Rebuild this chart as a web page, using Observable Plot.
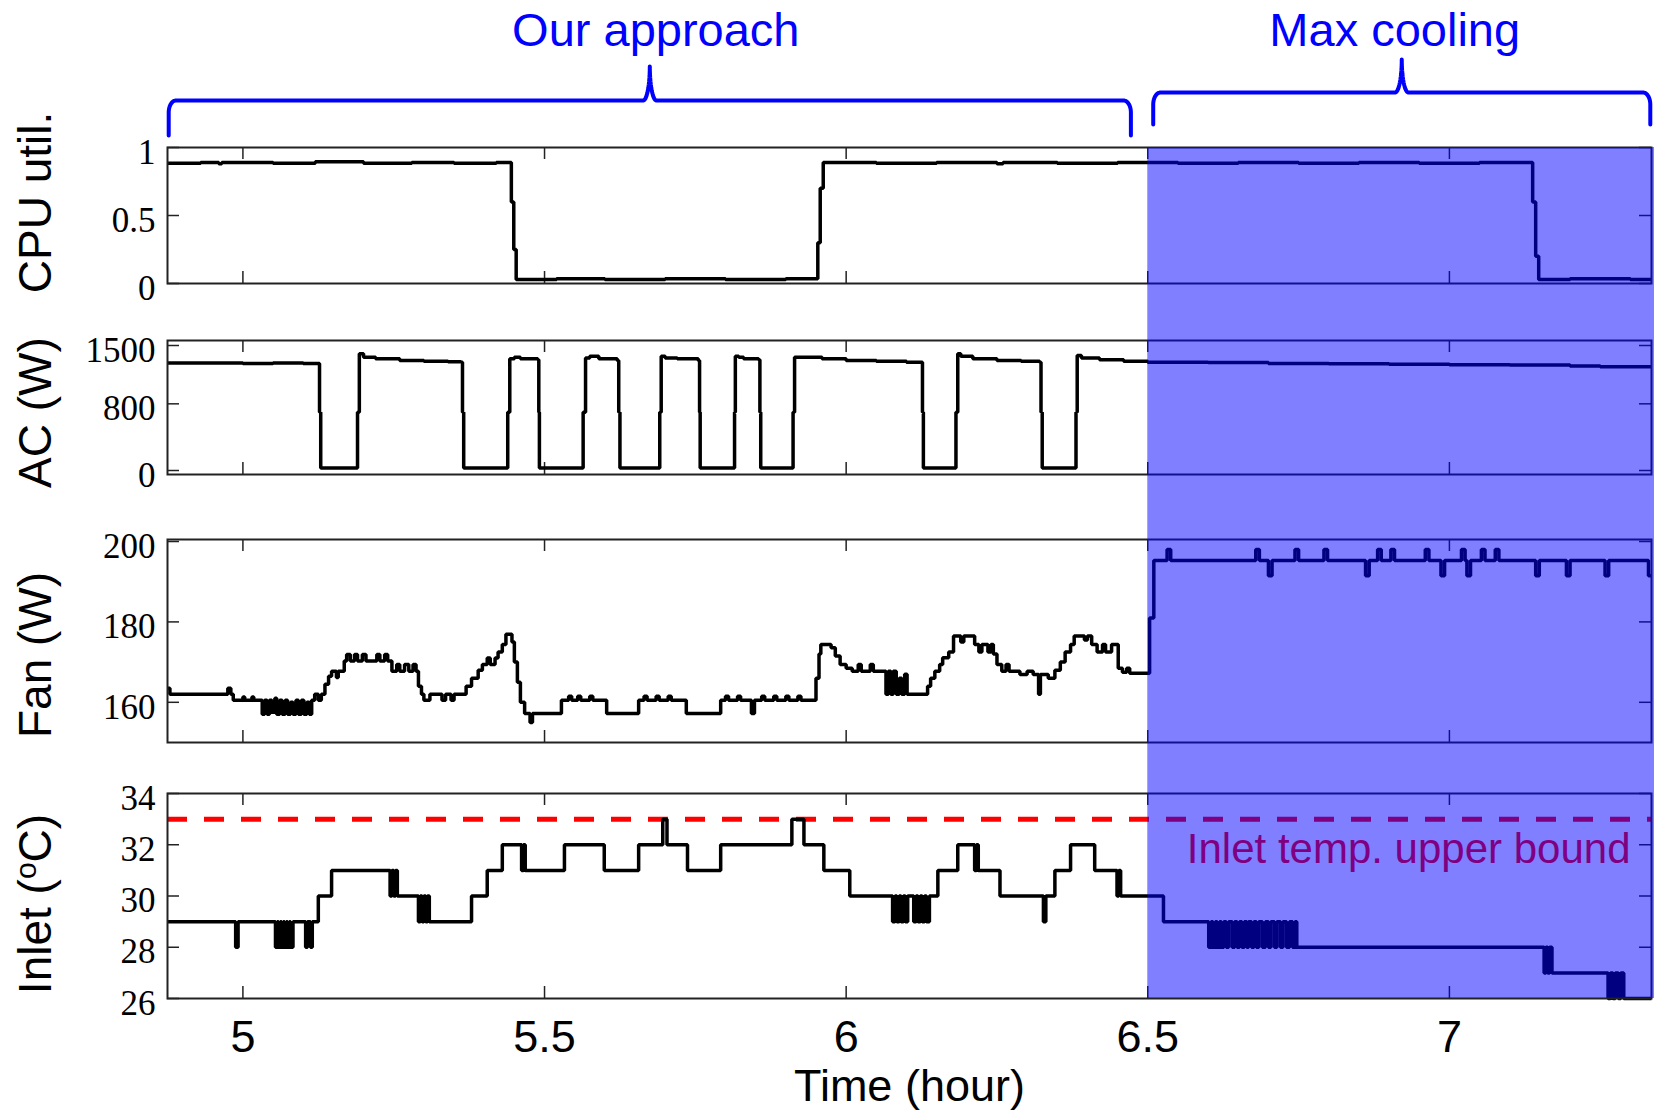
<!DOCTYPE html>
<html>
<head>
<meta charset="utf-8">
<script src="https://cdn.jsdelivr.net/npm/d3@7"></script>
<script src="https://cdn.jsdelivr.net/npm/@observablehq/plot@0.6"></script>
<style>
html, body { margin: 0; padding: 0; background: #fff; }
#chart { position: relative; width: 1654px; height: 1112px; overflow: hidden; background: #fff; }
</style>
</head>
<body>
<div id="chart"></div>
<script>
// ---------------- DATA ----------------
const xTicks = [5, 5.5, 6, 6.5, 7];
const xTickLabels = ["5", "5.5", "6", "6.5", "7"];

const phaseLabels = ["Our approach", "Max cooling"];
const phaseStart = [4.877, 6.509];
const phaseEnd = [6.472, 7.333];
const shadeStart = 6.5;
const shadeEnd = 7.34;

const cpuTicks = [0, 0.5, 1];
const cpuTickLabels = ["0", "0.5", "1"];
const acTicks = [0, 800, 1500];
const acTickLabels = ["0", "800", "1500"];
const fanTicks = [160, 180, 200];
const fanTickLabels = ["160", "180", "200"];
const inletTicks = [26, 28, 30, 32, 34];
const inletTickLabels = ["26", "28", "30", "32", "34"];
const inletBound = 33;
const inletBoundLabel = "Inlet temp. upper bound";

// [hour, CPU utilisation]
const cpuUtil = [
  [4.875,0.885],[4.93,0.89],[4.96,0.88],[4.965,0.89],[5.05,0.885],[5.12,0.895],[5.2,0.885],[5.28,0.89],
  [5.35,0.885],[5.42,0.89],[5.445,0.6],[5.449,0.25],[5.453,0.03],[5.52,0.035],[5.6,0.03],[5.7,0.035],
  [5.8,0.03],[5.9,0.035],[5.953,0.3],[5.957,0.7],[5.962,0.89],[6.05,0.885],[6.15,0.89],[6.25,0.88],
  [6.26,0.89],[6.35,0.885],[6.45,0.89],[6.55,0.885],[6.65,0.89],[6.75,0.885],[6.85,0.89],[6.95,0.885],
  [7.05,0.89],[7.138,0.6],[7.143,0.2],[7.148,0.03],[7.2,0.035],[7.3,0.03],[7.335,0.03]
];

// [hour, AC power W]
const acPower = [
  [4.875,1290],[4.95,1290],[5.0,1285],[5.05,1290],[5.1,1285],[5.1245,1285],[5.127,700],[5.129,30],
  [5.1877,30],[5.190,700],[5.193,1400],[5.2,1360],[5.22,1340],[5.26,1320],[5.3,1310],[5.34,1305],
  [5.3616,1300],[5.364,700],[5.366,30],[5.436,30],[5.439,700],[5.4424,1340],[5.45,1360],[5.46,1340],
  [5.4888,1330],[5.4905,700],[5.4915,30],[5.5608,30],[5.564,700],[5.568,1350],[5.575,1370],[5.59,1340],
  [5.6205,1320],[5.623,700],[5.625,30],[5.689,30],[5.691,700],[5.6934,1370],[5.70,1350],[5.72,1340],
  [5.7548,1320],[5.757,700],[5.758,30],[5.8128,30],[5.815,700],[5.8163,1370],[5.822,1360],[5.83,1340],
  [5.8548,1330],[5.857,700],[5.8584,30],[5.9093,30],[5.912,700],[5.9145,1360],[5.93,1360],[5.96,1340],
  [6.0,1320],[6.05,1310],[6.1,1300],[6.125,1300],[6.1265,700],[6.128,30],[6.18,30],[6.182,700],
  [6.185,1400],[6.19,1370],[6.21,1340],[6.25,1320],[6.29,1310],[6.3207,1300],[6.323,700],[6.325,30],
  [6.379,30],[6.381,700],[6.383,1380],[6.39,1350],[6.42,1330],[6.46,1310],[6.5,1300],[6.6,1295],
  [6.7,1285],[6.8,1280],[6.9,1275],[7.0,1270],[7.1,1265],[7.2,1255],[7.25,1245],[7.335,1245]
];

// [hour, fan power W]
const fanPower = [
  [4.875,163.5],[4.879,162],[4.975,163.5],[4.98,162],[4.984,160.5],[5.0,161.3],[5.003,160.5],[5.015,161.3],
  [5.018,160.5],[5.032,157],[5.036,160.5],[5.04,157],[5.044,160.5],[5.048,157.5],[5.053,161],[5.056,157],
  [5.061,160.5],[5.065,157],[5.07,160.5],[5.074,157],[5.079,160],[5.083,157],[5.088,160.5],[5.092,157],
  [5.097,160.5],[5.101,157],[5.106,160],[5.110,157],[5.114,160.5],[5.119,162],[5.125,160.5],[5.13,162],
  [5.136,164.5],[5.142,166.5],[5.147,167.7],[5.155,166.2],[5.158,167.7],[5.168,170.3],[5.172,171.9],[5.178,170.3],
  [5.185,171.9],[5.19,170.3],[5.198,171.9],[5.204,170.3],[5.222,171.9],[5.227,170.3],[5.235,171.9],[5.24,170.3],
  [5.247,167.7],[5.255,169.4],[5.26,167.7],[5.268,169.4],[5.275,167.7],[5.282,169.4],[5.287,167.7],[5.291,164],
  [5.296,162],[5.30,160.5],[5.31,162],[5.33,160.5],[5.336,162],[5.345,160.5],[5.35,162],[5.37,164],
  [5.379,166],[5.39,168],[5.397,169.4],[5.405,171],[5.41,169.4],[5.418,171],[5.423,172.5],[5.43,174.4],
  [5.436,176.9],[5.446,175],[5.45,170],[5.455,165],[5.46,160],[5.467,157.2],[5.476,155],[5.48,157.2],
  [5.528,160.5],[5.54,161.5],[5.545,160.5],[5.555,161.5],[5.56,160.5],[5.575,161.5],[5.58,160.5],[5.603,157.2],
  [5.656,160.5],[5.665,161.5],[5.67,160.5],[5.685,161.5],[5.69,160.5],[5.705,161.5],[5.71,160.5],[5.735,157.2],
  [5.792,160.5],[5.80,161.5],[5.805,160.5],[5.82,161.5],[5.825,160.5],[5.843,157.2],[5.848,160.5],[5.86,161.5],
  [5.865,160.5],[5.88,161.5],[5.885,160.5],[5.90,161.5],[5.905,160.5],[5.92,161.5],[5.925,160.5],[5.95,166],
  [5.955,172],[5.958,174.4],[5.975,173.6],[5.982,171.5],[5.99,169.4],[6.0,168.5],[6.01,167.7],[6.02,169.4],
  [6.025,167.7],[6.04,169.4],[6.045,167.7],[6.066,162],[6.07,167.7],[6.074,162],[6.078,167.7],[6.083,162],
  [6.088,166],[6.092,162],[6.097,167],[6.101,162],[6.129,162],[6.135,164],[6.14,166],[6.147,167.7],
  [6.155,169.4],[6.16,171.1],[6.17,172.5],[6.178,176.5],[6.19,175],[6.195,176.5],[6.213,174.4],[6.22,172.5],
  [6.225,174.4],[6.235,172.5],[6.24,174.4],[6.244,172],[6.25,169.4],[6.258,167.7],[6.265,169.4],[6.27,167.7],
  [6.288,166.9],[6.30,167.7],[6.31,166.9],[6.319,162],[6.322,166.9],[6.335,166],[6.346,168],[6.355,170],
  [6.363,172.5],[6.372,174.4],[6.378,176.5],[6.395,175.5],[6.40,176.5],[6.407,174.4],[6.416,172.5],[6.425,174.4],
  [6.43,172.5],[6.44,174.4],[6.451,168.5],[6.458,167.5],[6.465,168.5],[6.47,167.2],[6.497,167.2],[6.503,181],
  [6.51,195.25],[6.532,198],[6.538,195.25],[6.679,198],[6.685,195.25],[6.700,191.5],[6.706,195.25],[6.744,198],
  [6.75,195.25],[6.792,198],[6.798,195.25],[6.861,191.5],[6.867,195.25],[6.881,198],[6.887,195.25],[6.903,198],
  [6.909,195.25],[6.960,198],[6.966,195.25],[6.986,191.5],[6.992,195.25],[7.020,198],[7.026,195.25],[7.029,191.5],
  [7.035,195.25],[7.053,198],[7.059,195.25],[7.076,198],[7.082,195.25],[7.143,191.5],[7.149,195.25],[7.194,191.5],
  [7.2,195.25],[7.258,191.5],[7.264,195.25],[7.33,191.5],[7.335,191.5]
];

// [hour, inlet temperature °C]
const inletTemp = [
  [4.875,29],[4.988,28],[4.992,29],[5.054,28],[5.057,29],[5.059,28],[5.062,29],[5.064,28],[5.067,29],
  [5.069,28],[5.072,29],[5.074,28],[5.077,29],[5.079,28],[5.083,29],[5.104,28],[5.107,29],[5.112,28],
  [5.115,29],[5.125,30],[5.147,31],[5.244,30],[5.247,31],[5.25,30],[5.253,31],[5.256,30],[5.291,29],
  [5.294,30],[5.297,29],[5.30,30],[5.303,29],[5.306,30],[5.309,29],[5.379,30],[5.405,31],[5.43,32],
  [5.462,31],[5.465,32],[5.468,31],[5.533,32],[5.599,31],[5.656,32],[5.696,33],[5.703,32],[5.737,31],
  [5.792,32],[5.91,33],[5.93,32],[5.963,31],[6.006,30],[6.077,29],[6.081,30],[6.084,29],[6.088,30],
  [6.091,29],[6.095,30],[6.098,29],[6.102,30],[6.112,29],[6.116,30],[6.119,29],[6.123,30],[6.126,29],
  [6.13,30],[6.133,29],[6.138,30],[6.152,31],[6.185,32],[6.213,31],[6.216,32],[6.219,31],[6.255,30],
  [6.327,29],[6.331,30],[6.346,31],[6.372,32],[6.412,31],[6.449,30],[6.452,31],[6.455,30],[6.526,29],
  [6.601,28],[6.605,29],[6.608,28],[6.612,29],[6.615,28],[6.619,29],[6.622,28],[6.626,29],[6.63,28],
  [6.634,29],[6.64,28],[6.644,29],[6.648,28],[6.652,29],[6.656,28],[6.66,29],[6.664,28],[6.667,29],
  [6.672,28],[6.676,29],[6.68,28],[6.684,29],[6.69,28],[6.695,29],[6.70,28],[6.704,29],[6.71,28],
  [6.714,29],[6.72,28],[6.724,29],[6.73,28],[6.735,29],[6.74,28],[6.744,29],[6.747,28],[7.157,27],
  [7.16,28],[7.163,27],[7.166,28],[7.170,27],[7.263,26],[7.267,27],[7.271,26],[7.275,27],[7.28,26],
  [7.284,27],[7.289,26],[7.335,26]
];

// ---------------- LAYOUT / STYLE ----------------
const SANS = "'Liberation Sans', Arial, Helvetica, sans-serif";
const SERIF = "'Liberation Serif', 'Times New Roman', serif";
const W = 1654, ML = 167, MR = 3, TICK = 12;
const FW = W - ML - MR;
const xDomain = [4.875, 7.335];
const chart = document.getElementById("chart");

function place(svg, top) {
  svg.style.position = "absolute";
  svg.style.left = "0px";
  svg.style.top = top + "px";
  chart.appendChild(svg);
  return svg;
}

function panel({frameTop, frameH, yDomain, series, ticks, labels, title, titleDy, mb = 20, before = [], after = []}) {
  const mt = 20;
  const svg = Plot.plot({
    width: W, height: mt + frameH + mb,
    marginLeft: ML, marginRight: MR, marginTop: mt, marginBottom: mb,
    style: {background: "transparent", overflow: "visible", fontFamily: SANS, color: "black"},
    x: {domain: xDomain, axis: null},
    y: {domain: yDomain, axis: null},
    marks: [
      ...before,
      Plot.tickX(xTicks, {x: d => d, insetBottom: frameH - TICK, stroke: "#222", strokeWidth: 1.5}),
      Plot.tickX(xTicks, {x: d => d, insetTop: frameH - TICK, stroke: "#222", strokeWidth: 1.5}),
      Plot.tickY(ticks, {y: d => d, insetRight: FW - TICK, stroke: "#222", strokeWidth: 1.5}),
      Plot.tickY(ticks, {y: d => d, insetLeft: FW - TICK, stroke: "#222", strokeWidth: 1.5}),
      Plot.text(ticks, {y: d => d, text: (d, i) => labels[i], frameAnchor: "left", textAnchor: "end",
        dx: -12, dy: 5, fontSize: 35, fontFamily: SERIF, fill: "black"}),
      Plot.text([title], {text: d => d, frameAnchor: "left", textAnchor: "middle", rotate: -90, dx: -131, dy: titleDy,
        fontSize: 46, fontFamily: SANS, lineAnchor: "middle", fill: "black"}),
      Plot.line(series, {x: d => d[0], y: d => d[1], curve: "step-after", stroke: "black",
        strokeWidth: 3.5, strokeLinejoin: "miter", strokeLinecap: "butt"}),
      ...after,
      Plot.frame({stroke: "#222", strokeWidth: 2})
    ]
  });
  return place(svg, frameTop - mt);
}

// Braces + phase labels
function brace(s, e, bar, depth, tip) {
  const pts = [], rh = 0.012, rv = 12, w = 0.011, n = 14, m = (s + e) / 2;
  pts.push([s, bar + depth]);
  for (let i = 0; i <= n; i++) { const t = i / n * Math.PI / 2; pts.push([s + rh * (1 - Math.cos(t)), bar + rv * (1 - Math.sin(t))]); }
  for (let i = 0; i <= n; i++) { const t = i / n * Math.PI / 2; pts.push([m - w + w * Math.sin(t), bar - tip + tip * Math.cos(t)]); }
  for (let i = n; i >= 0; i--) { const t = i / n * Math.PI / 2; pts.push([m + w - w * Math.sin(t), bar - tip + tip * Math.cos(t)]); }
  for (let i = n; i >= 0; i--) { const t = i / n * Math.PI / 2; pts.push([e - rh * (1 - Math.cos(t)), bar + rv * (1 - Math.sin(t))]); }
  pts.push([e, bar + depth]);
  return pts;
}
const braceBar = [100, 92], braceDepth = [35, 32], braceTip = [34, 33], labelDx = [6, -7];
const phases = phaseLabels.map((label, i) => ({label, start: phaseStart[i], end: phaseEnd[i], i}));
const bracePts = phases.flatMap(p => brace(p.start, p.end, braceBar[p.i], braceDepth[p.i], braceTip[p.i]).map(q => ({x: q[0], y: q[1], g: p.i})));

place(Plot.plot({
  width: W, height: 147, marginLeft: ML, marginRight: MR, marginTop: 0, marginBottom: 0,
  style: {background: "transparent", overflow: "visible", fontFamily: SANS},
  x: {domain: xDomain, axis: null},
  y: {domain: [0, 147], range: [0, 147], axis: null},
  marks: [
    Plot.line(bracePts, {x: "x", y: "y", z: "g", stroke: "#0000ff", strokeWidth: 4, curve: "linear", clip: false}),
    ...phases.map(p => Plot.text([p], {x: d => (d.start + d.end) / 2, y: 30, text: "label", fill: "#0000ff",
      fontSize: 47, fontFamily: SANS, lineAnchor: "middle", dx: labelDx[p.i]}))
  ]
}), 0);

panel({frameTop: 147, frameH: 136, yDomain: [0, 1], series: cpuUtil, ticks: cpuTicks, labels: cpuTickLabels,
  title: "CPU util.", titleDy: -13});
panel({frameTop: 340, frameH: 134, yDomain: [-48, 1560], series: acPower, ticks: acTicks, labels: acTickLabels,
  title: "AC (W)", titleDy: 5});
panel({frameTop: 539, frameH: 203, yDomain: [150, 200.5], series: fanPower, ticks: fanTicks, labels: fanTickLabels,
  title: "Fan (W)", titleDy: 14});
const inletSvg = panel({frameTop: 793, frameH: 205, yDomain: [26, 34], series: inletTemp, ticks: inletTicks,
  labels: inletTickLabels, title: "Inlet (oC)", titleDy: 8, mb: 114,
  before: [
    Plot.ruleY([inletBound], {stroke: "#ff0000", strokeWidth: 5, strokeDasharray: "20,17"}),
    Plot.text([inletBound], {y: d => d, text: () => inletBoundLabel, frameAnchor: "right", textAnchor: "end",
      dx: -21, dy: 30, fill: "#ff0000", fontSize: 42, fontFamily: SANS, lineAnchor: "middle"})
  ],
  after: [
    Plot.text(xTicks, {x: d => d, text: (d, i) => xTickLabels[i], frameAnchor: "bottom", dy: 39,
      fontSize: 45, fontFamily: SANS, lineAnchor: "middle", fill: "black"}),
    Plot.text(["Time (hour)"], {text: d => d, frameAnchor: "bottom", dy: 88, fontSize: 45,
      fontFamily: SANS, lineAnchor: "middle", fill: "black"})
  ]
});
// superscript "o" in the inlet title
d3.select(inletSvg).selectAll("text").filter(function() { return this.textContent === "Inlet (oC)"; })
  .each(function() {
    const t = d3.select(this);
    t.text("");
    t.append("tspan").text("Inlet (");
    t.append("tspan").attr("dy", -15).attr("font-size", 30).text("o");
    t.append("tspan").attr("dy", 15).text("C)");
  });

// Shaded "max cooling" overlay across all panels
place(Plot.plot({
  width: W, height: 851, marginLeft: ML, marginRight: MR, marginTop: 0, marginBottom: 0,
  style: {background: "transparent", overflow: "visible"},
  x: {domain: xDomain, axis: null},
  y: {domain: [0, 1], axis: null},
  marks: [
    Plot.rect([{start: shadeStart, end: shadeEnd}], {x1: "start", x2: "end", y1: 0, y2: 1,
      fill: "#0000ff", fillOpacity: 0.5, clip: false})
  ]
}), 147);
</script>
</body>
</html>
